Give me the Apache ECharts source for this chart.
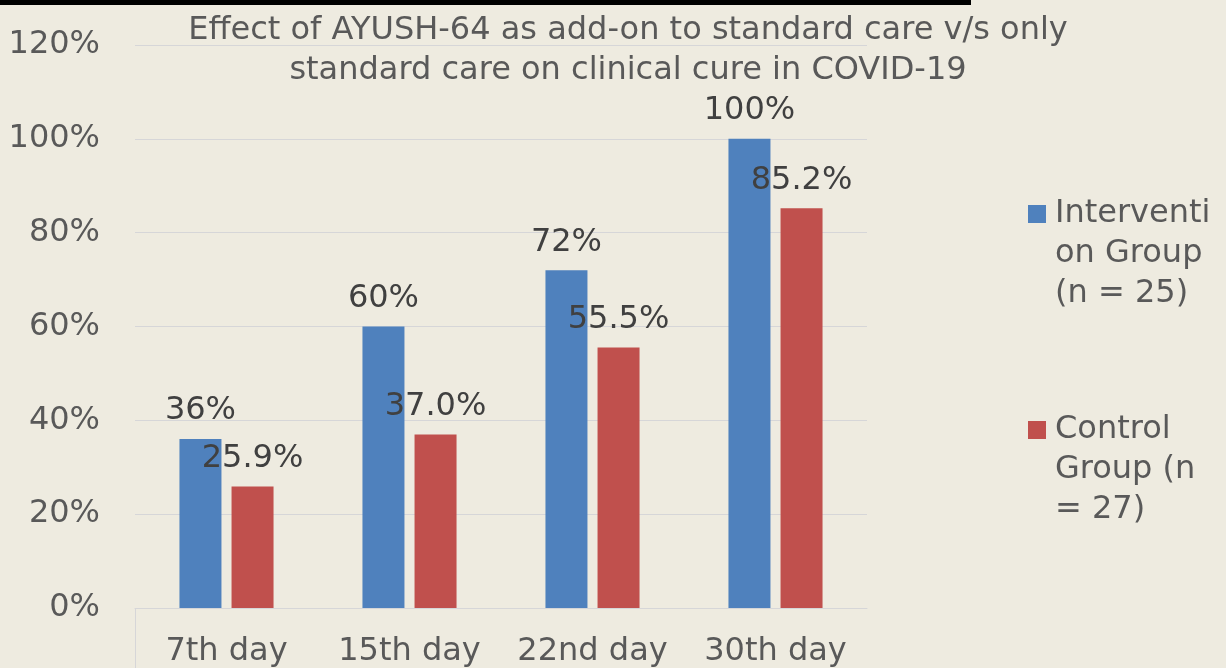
<!DOCTYPE html>
<html>
<head>
<meta charset="utf-8">
<script src="https://cdn.jsdelivr.net/npm/echarts@6/dist/echarts.min.js"></script>
<style>
  html, body { margin: 0; padding: 0; background: #EEEBE0; }
  #chart { width: 1226px; height: 668px; }
</style>
</head>
<body>
<div id="chart"></div>
<script>
const titleText = 'Effect of AYUSH-64 as add-on to standard care v/s only\nstandard care on clinical cure in COVID-19';
const categories = ['7th day', '15th day', '22nd day', '30th day'];
const interventionName = 'Interventi\non Group\n(n = 25)';
const controlName = 'Control\nGroup (n\n= 27)';
const interventionValues = [36, 60, 72, 100];
const controlValues = [25.9, 37.0, 55.5, 85.2];
const yTicks = [0, 20, 40, 60, 80, 100, 120];

const FONT = '"DejaVu Sans", Verdana, sans-serif';
const chart = echarts.init(document.getElementById('chart'), null, { renderer: 'canvas' });

chart.setOption({
  backgroundColor: '#EEEBE0',
  animation: false,
  title: {
    text: titleText,
    left: 628,
    top: 11,
    textAlign: 'center',
    padding: 0,
    textStyle: { fontFamily: FONT, fontSize: 32, fontWeight: 'normal', color: '#595959', lineHeight: 40 }
  },
  legend: {
    orient: 'vertical',
    left: 1028,
    top: 114,
    padding: 0,
    itemGap: 16,
    itemWidth: 18,
    itemHeight: 18,
    icon: 'rect',
    data: [interventionName, controlName],
    formatter: function (name) { return '\n\n' + name; },
    textStyle: { fontFamily: FONT, fontSize: 32, color: '#595959', lineHeight: 40, padding: [0, 0, 0, 4] }
  },
  grid: { left: 135, right: 359, top: 45, bottom: 60, containLabel: false },
  xAxis: {
    type: 'category',
    data: categories,
    axisLine: { show: true, lineStyle: { color: '#D6D6D8', width: 1 } },
    axisTick: { show: false },
    axisLabel: { interval: 0, margin: 28, fontFamily: FONT, fontSize: 32, color: '#595959' }
  },
  yAxis: {
    type: 'value',
    min: yTicks[0],
    max: yTicks[yTicks.length - 1],
    interval: yTicks[1] - yTicks[0],
    axisLine: { show: false },
    axisTick: { show: false },
    splitLine: { lineStyle: { color: '#D6D6D8', width: 1 } },
    axisLabel: { margin: 35, padding: [4, 0, 0, 0], fontFamily: FONT, fontSize: 32, color: '#595959', formatter: '{value}%' }
  },
  graphic: [
    { type: 'rect', left: 0, top: 0, shape: { width: 971, height: 5 }, style: { fill: '#000000' }, z: 10 },
    { type: 'line', shape: { x1: 135.5, y1: 608, x2: 135.5, y2: 668 }, style: { stroke: '#D6D6D8', lineWidth: 1 } }
  ],
  series: [
    {
      name: interventionName,
      type: 'bar',
      data: interventionValues,
      barWidth: 42,
      barGap: '24%',
      itemStyle: { color: '#4F81BD' },
      label: {
        show: true, position: 'top', distance: 12,
        fontFamily: FONT, fontSize: 32, color: '#404040',
        formatter: function (p) { return p.value + '%'; }
      }
    },
    {
      name: controlName,
      type: 'bar',
      data: controlValues,
      barWidth: 42,
      itemStyle: { color: '#C0504D' },
      label: {
        show: true, position: 'top', distance: 12,
        fontFamily: FONT, fontSize: 32, color: '#404040',
        formatter: function (p) { return p.value.toFixed(1) + '%'; }
      }
    }
  ]
});
</script>
</body>
</html>
